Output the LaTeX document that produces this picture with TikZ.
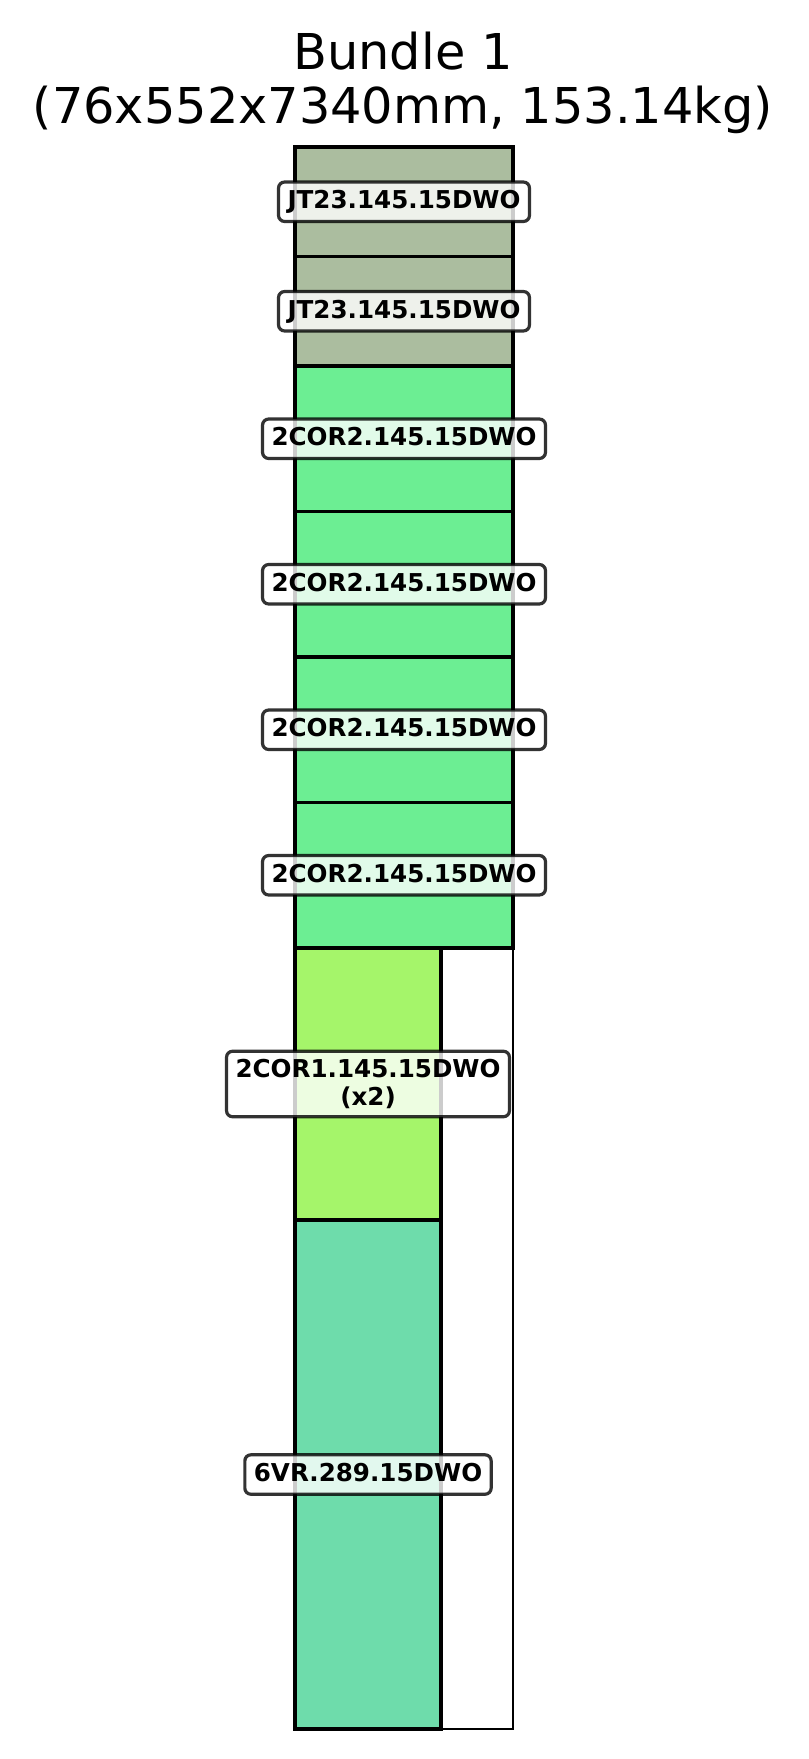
\documentclass[tikz,border=0pt]{standalone}
\usepackage{fontspec}
\setmainfont{DejaVu Sans}
\usepackage{tikz}
\usetikzlibrary{positioning}
\usepackage{xcolor}
\definecolor{jtgreen}{RGB}{171,189,159}
\definecolor{corgreen}{RGB}{108,238,147}
\definecolor{limegreen}{RGB}{165,245,106}
\definecolor{vrgreen}{RGB}{110,220,171}
\tikzset{
  part/.style={draw=black, line width=1.6pt},
  tagbase/.style={draw=black, draw opacity=0.8, line width=1.6pt, fill=white, fill opacity=0.8,
    text opacity=1, rounded corners=3pt, inner xsep=4.5pt, inner ysep=4pt, align=center,
    font=\fontsize{12.3}{14}\selectfont\bfseries},
  tag/.style={tagbase, text height=9.3pt, text depth=2.4pt}
}

\begin{document}
\begin{tikzpicture}[x=0.5pt, y=-0.5pt]
\useasboundingbox (0,0) rectangle (808,1759);
% Bundle outline
\def\xl{295}
\def\xr{513}
\def\xm{441}
\draw[black, line width=1.1pt] (\xl,147) rectangle (\xr,1729);

% Parts
\filldraw[part, fill=jtgreen] (\xl,147) rectangle (\xr,256.5);
\filldraw[part, fill=jtgreen] (\xl,256.5) rectangle (\xr,366);
\filldraw[part, fill=corgreen] (\xl,366) rectangle (\xr,511.5);
\filldraw[part, fill=corgreen] (\xl,511.5) rectangle (\xr,657);
\filldraw[part, fill=corgreen] (\xl,657) rectangle (\xr,802.5);
\filldraw[part, fill=corgreen] (\xl,802.5) rectangle (\xr,948);
\filldraw[part, fill=limegreen] (\xl,948) rectangle (\xm,1220);
\filldraw[part, fill=vrgreen] (\xl,1220) rectangle (\xm,1729);

% Labels
\node[tag] (jt1) at (404,201.75) {JT23.145.15DWO};
\node[tag] (jt2) at (404,311.25) {JT23.145.15DWO};
\node[tag] (cortwo1) at (404,438.75) {2COR2.145.15DWO};
\node[tag] (cortwo2) at (404,584.25) {2COR2.145.15DWO};
\node[tag] (cortwo3) at (404,729.75) {2COR2.145.15DWO};
\node[tag] (cortwo4) at (404,875.25) {2COR2.145.15DWO};
\node[tagbase] (corone) at (368,1084) {2COR1.145.15DWO\\(x2)};
\node[tag] (vr) at (368,1474.5) {6VR.289.15DWO};

% Title
\node[anchor=base, font=\fontsize{24.7}{27}\selectfont] (title) at (403,70) {Bundle 1};
\node[anchor=base, font=\fontsize{24.7}{27}\selectfont] (size) at (403,124) {(76x552x7340mm, 153.14kg)};
\end{tikzpicture}
\end{document}
